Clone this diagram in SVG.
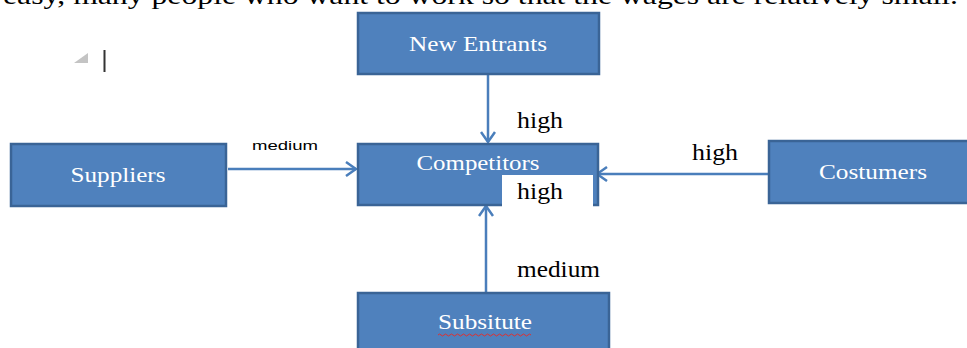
<svg xmlns="http://www.w3.org/2000/svg" width="967" height="348" viewBox="0 0 967 348">
<style>
.box{fill:#4F81BD;stroke:#3A6496;stroke-width:2.5}
.nt{font-family:'Liberation Serif','Times New Roman',serif;font-size:21px;fill:#FFFFFF;text-anchor:middle}
.lb{font-family:'Liberation Serif','Times New Roman',serif;font-size:23px;fill:#000000}
.ln{fill:none;stroke:#4A7EBB;stroke-width:2.5}
</style>
<defs>
<marker id="ah" viewBox="0 0 12 16" refX="11" refY="8" markerWidth="12" markerHeight="16" markerUnits="userSpaceOnUse" orient="auto">
<path d="M1,1 L11,8 L1,15" fill="none" stroke="#4A7EBB" stroke-width="2.5"/>
</marker>
</defs>
<rect width="967" height="348" fill="#FFFFFF"/>
<text x="3" y="4" font-family="Liberation Serif,serif" font-size="25" textLength="955" lengthAdjust="spacingAndGlyphs" fill="#000">easy, many people who want to work so that the wages are relatively small.</text>
<polygon points="74,63 88,63 88,53" fill="#C4C4C4"/>
<rect x="103.5" y="50" width="2" height="22" fill="#333333"/>
<g id="connectors">
<line class="ln" x1="488" y1="75" x2="488" y2="142" marker-end="url(#ah)"/>
<line class="ln" x1="228" y1="169" x2="356" y2="169" marker-end="url(#ah)"/>
<line class="ln" x1="769" y1="174" x2="597" y2="174" marker-end="url(#ah)"/>
<line class="ln" x1="486" y1="293" x2="486" y2="206" marker-end="url(#ah)"/>
<text class="lb" x="517" y="128" textLength="46" lengthAdjust="spacingAndGlyphs">high</text>
<text x="252" y="150" font-family="Liberation Sans,sans-serif" font-size="12" textLength="66" lengthAdjust="spacingAndGlyphs" fill="#000">medium</text>
<text class="lb" x="692" y="160" textLength="46" lengthAdjust="spacingAndGlyphs">high</text>
<text class="lb" x="517" y="277" textLength="83" lengthAdjust="spacingAndGlyphs">medium</text>
</g>
<g id="new-entrants">
<rect class="box" x="358" y="13" width="241" height="61"/>
<text class="nt" x="478" y="51" textLength="138" lengthAdjust="spacingAndGlyphs">New Entrants</text>
</g>
<g id="suppliers">
<rect class="box" x="11" y="144" width="215" height="62"/>
<text class="nt" x="118" y="182" textLength="95" lengthAdjust="spacingAndGlyphs">Suppliers</text>
</g>
<g id="competitors">
<rect class="box" x="358" y="144" width="240" height="61"/>
<text class="nt" x="478" y="170" textLength="123" lengthAdjust="spacingAndGlyphs">Competitors</text>
<rect x="502" y="175" width="91" height="32" fill="#FFFFFF"/>
<text class="lb" x="517" y="199" textLength="46" lengthAdjust="spacingAndGlyphs">high</text>
</g>
<g id="costumers">
<rect class="box" x="769" y="141" width="200" height="62"/>
<text class="nt" x="873" y="179" textLength="108" lengthAdjust="spacingAndGlyphs">Costumers</text>
</g>
<g id="subsitute">
<rect class="box" x="358" y="293" width="251" height="60"/>
<text class="nt" x="485" y="329" textLength="94" lengthAdjust="spacingAndGlyphs">Subsitute</text>
<path d="M438,335 q1.5,-2 3,0 t3,0 t3,0 t3,0 t3,0 t3,0 t3,0 t3,0 t3,0 t3,0 t3,0 t3,0 t3,0 t3,0 t3,0 t3,0 t3,0 t3,0 t3,0 t3,0 t3,0 t3,0 t3,0 t3,0 t3,0 t3,0 t3,0 t3,0 t3,0 t3,0 t3,0" fill="none" stroke="#E03030" stroke-width="1"/>
</g>
</svg>
